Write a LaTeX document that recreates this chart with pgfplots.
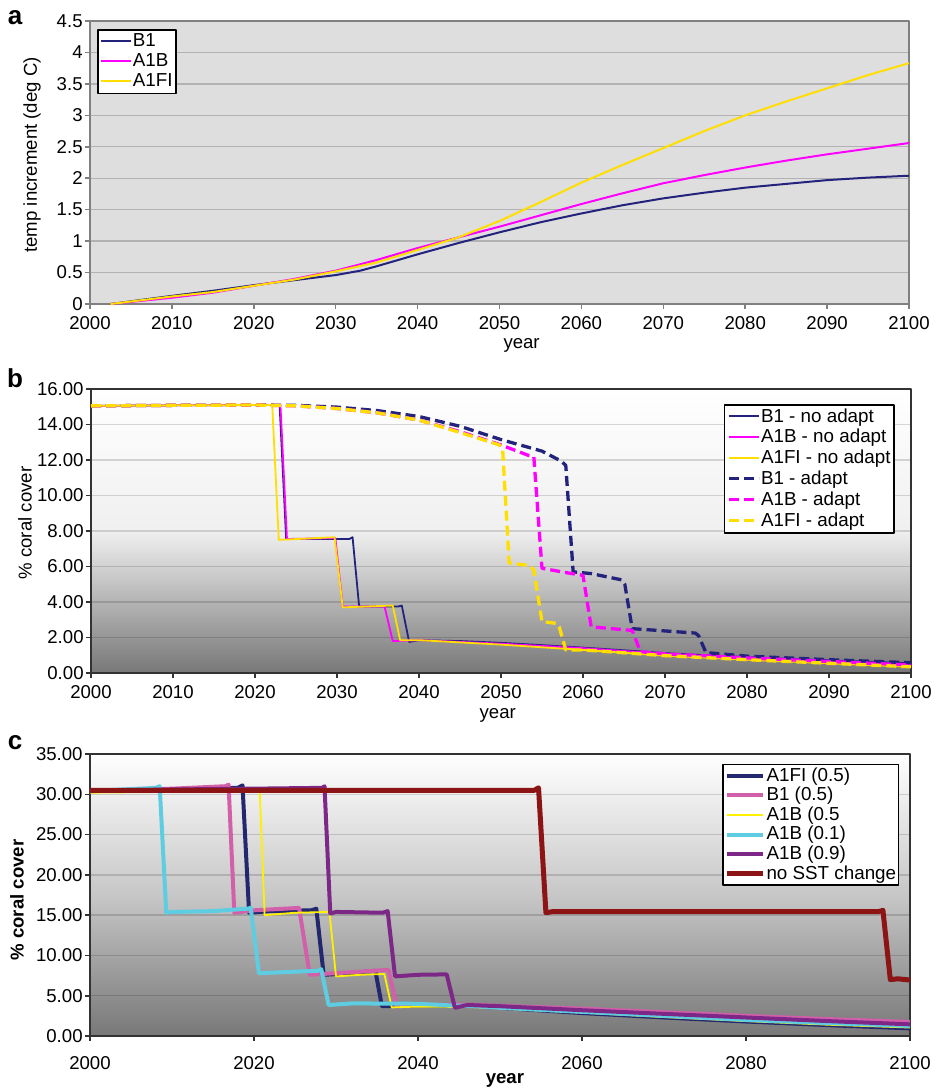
\documentclass[border=0pt]{standalone}
\usepackage{fontspec}
\setmainfont{Liberation Sans}
\usepackage{pgfplots}
\pgfplotsset{compat=1.18}

\definecolor{bnavy}{RGB}{35,35,125}
\definecolor{bmag}{RGB}{255,0,255}
\definecolor{byel}{RGB}{255,222,0}
\definecolor{cnavy}{RGB}{35,40,110}
\definecolor{cpink}{RGB}{210,95,170}
\definecolor{cyel}{RGB}{255,240,0}
\definecolor{ccyan}{RGB}{95,205,225}
\definecolor{cpurp}{RGB}{125,40,135}
\definecolor{cred}{RGB}{140,20,20}

\pgfplotsset{
  panel/.style={
    scale only axis,
    xmin=2000, xmax=2100,
    tick align=outside, tick pos=left,
    major tick length=2.5pt,
    tick style={line width=0.8pt},
    ticklabel style={font=\fontsize{9.3}{10}\selectfont, inner sep=1pt},
    /pgf/number format/assume math mode=true,
    xticklabel style={/pgf/number format/1000 sep={}, yshift=-2.75pt},
    label style={font=\fontsize{9.3}{10}\selectfont},
    legend cell align=left,
    legend style={font=\fontsize{9.4}{10}\selectfont, draw=black, line width=0.8pt,
      fill=white, inner sep=1.2pt, row sep=0.8pt,
      nodes={inner sep=0.4pt, text height=7pt, text depth=1.8pt}},
    legend image code/.code={\draw[##1] (0pt,0.3pt) -- (15pt,0.3pt);},
    ymajorgrids,
    line join=round,
  },
  longlegend/.style={
    legend image code/.code={\draw[##1] (0pt,0pt) -- (18pt,0pt);},
  },
}

\begin{document}
\begin{tikzpicture}
\useasboundingbox (0,0) rectangle (469pt,-544.5pt);

% ---- panel a
\node[font=\fontsize{13}{13}\bfseries] at (7.5pt,-9pt) {a};
\begin{axis}[panel,
  at={(45pt,-152pt)}, anchor=south west,
  width=409.5pt, height=141.5pt,
  ymin=0, ymax=4.5, ytick={0,0.5,...,4.5},
  xtick={2000,2010,...,2100},
  axis background/.style={fill=black!13},
  axis line style={black!50, line width=1pt},
  tick style={black!50},
  major grid style={black!30, line width=0.7pt},
  xlabel={year}, ylabel={temp increment (deg C)},
  xlabel style={at={(axis description cs:0.527,-0.147)}, anchor=center},
  ylabel style={at={(axis description cs:-0.0708,0.527)}, anchor=center},
  legend style={at={(0.0085,0.972)}, anchor=north west, row sep=0.3pt},
]
\addplot[bnavy, line width=1pt] coordinates {
 (2002.5,0) (2010,0.13) (2015,0.21) (2020,0.30) (2025,0.38) (2030,0.46)
 (2033,0.53) (2035,0.60) (2040,0.79) (2045,0.97) (2050,1.14) (2055,1.30)
 (2060,1.44) (2065,1.57) (2070,1.68) (2075,1.77) (2080,1.85) (2085,1.91)
 (2090,1.97) (2095,2.01) (2100,2.04)};
\addlegendentry{B1}
\addplot[bmag, line width=1pt] coordinates {
 (2002.5,0) (2010,0.10) (2015,0.18) (2020,0.29) (2025,0.40) (2030,0.53)
 (2035,0.70) (2040,0.89) (2045,1.06) (2050,1.23) (2055,1.41) (2060,1.59)
 (2065,1.76) (2070,1.92) (2075,2.05) (2080,2.17) (2085,2.28) (2090,2.38)
 (2095,2.47) (2100,2.56)};
\addlegendentry{A1B}
\addplot[byel, line width=1pt] coordinates {
 (2002.5,0) (2010,0.12) (2015,0.19) (2020,0.29) (2025,0.39) (2030,0.52)
 (2035,0.66) (2040,0.86) (2045,1.06) (2050,1.32) (2055,1.62) (2060,1.93)
 (2065,2.21) (2070,2.48) (2075,2.75) (2080,3.00) (2085,3.22) (2090,3.43)
 (2095,3.64) (2100,3.83)};
\addlegendentry{A1FI}
\end{axis}

% ---- panel b
\node[font=\fontsize{13}{13}\bfseries] at (7.5pt,-189pt) {b};
\begin{axis}[panel,
  at={(45.5pt,-336.5pt)}, anchor=south west,
  width=410pt, height=142pt,
  ymin=0, ymax=16, ytick={0,2,...,16},
  yticklabel style={/pgf/number format/.cd, fixed, zerofill, precision=2},
  xtick={2000,2010,...,2100},
  axis background/.style={top color=white, bottom color=black!53, middle color=black!6},
  axis line style={black!80, line width=1pt},
  tick style={black!80},
  major grid style={black, opacity=0.15, line width=0.7pt},
  xlabel={year}, ylabel={\% coral cover},
  xlabel style={at={(axis description cs:0.496,-0.148)}, anchor=center},
  ylabel style={at={(axis description cs:-0.0805,0.528)}, anchor=center},
  legend style={at={(0.980,0.947)}, anchor=north east},
]
\addplot[bnavy, line width=0.9pt] coordinates {
 (2000,15.05) (2010,15.08) (2020,15.1) (2023.0,15.1) (2023.8,7.55) (2031.5,7.55)
 (2031.9,7.65) (2032.7,3.75) (2037.5,3.75) (2037.9,3.8) (2038.8,1.75) (2040,1.85)
 (2045,1.8) (2050,1.7) (2055,1.57) (2060,1.43) (2065,1.28) (2070,1.12) (2075,1.0)
 (2080,0.9) (2085,0.8) (2090,0.72) (2095,0.63) (2100,0.55)};
\addlegendentry{B1 - no adapt}
\addplot[bmag, line width=0.9pt] coordinates {
 (2000,15.05) (2010,15.08) (2020,15.1) (2023.1,15.1) (2023.9,7.55) (2029.8,7.6)
 (2030.7,3.75) (2035.8,3.75) (2036.8,1.8) (2040,1.85) (2050,1.65) (2060,1.4)
 (2070,1.08) (2080,0.85) (2090,0.65) (2100,0.45)};
\addlegendentry{A1B - no adapt}
\addplot[byel, line width=0.9pt] coordinates {
 (2000,15.05) (2010,15.08) (2022.1,15.1) (2022.9,7.5) (2029.7,7.65) (2030.7,3.7)
 (2036.8,3.8) (2037.7,1.85) (2040,1.85) (2050,1.6) (2060,1.3) (2070,0.98)
 (2080,0.75) (2090,0.55) (2100,0.35)};
\addlegendentry{A1FI - no adapt}
\addplot[bnavy, line width=1.65pt, dash pattern=on 5pt off 2.5pt] coordinates {
 (2000,15.05) (2010,15.08) (2020,15.1) (2025,15.08) (2030,14.98) (2035,14.78)
 (2040,14.45) (2045,13.9) (2050,13.15) (2055,12.5) (2057.3,11.95) (2057.9,11.7)
 (2058.8,5.7) (2061,5.6) (2064.7,5.25) (2065.1,5.0) (2066,2.5) (2073.7,2.25)
 (2074.1,2.1) (2075,1.15) (2080,0.95) (2090,0.75) (2100,0.58)};
\addlegendentry{B1 - adapt}
\addplot[bmag, line width=1.65pt, dash pattern=on 5pt off 2.5pt] coordinates {
 (2000,15.05) (2010,15.08) (2020,15.1) (2025,15.05) (2030,14.9) (2035,14.65)
 (2040,14.25) (2045,13.6) (2050,12.85) (2053.4,12.25) (2054,12.2) (2055,5.9)
 (2058,5.65) (2060,5.5) (2061,2.6) (2066,2.4) (2067,1.2) (2070,1.08) (2080,0.85)
 (2090,0.65) (2100,0.45)};
\addlegendentry{A1B - adapt}
\addplot[byel, line width=1.65pt, dash pattern=on 5pt off 2.5pt] coordinates {
 (2000,15.05) (2010,15.08) (2020,15.1) (2025,15.05) (2030,14.9) (2035,14.65)
 (2040,14.25) (2045,13.55) (2049.8,12.85) (2050.2,12.6) (2051,6.2) (2053.5,6.05)
 (2054,5.8) (2055,2.9) (2056.7,2.8) (2057.1,2.6) (2057.9,1.3) (2060,1.3)
 (2070,0.98) (2080,0.75) (2090,0.55) (2100,0.35)};
\addlegendentry{A1FI - adapt}
\end{axis}

% ---- panel c
\node[font=\fontsize{13}{13}\bfseries] at (7.5pt,-371.5pt) {c};
\begin{axis}[panel, longlegend,
  at={(45pt,-518pt)}, anchor=south west,
  width=410pt, height=141pt,
  ymin=0, ymax=35, ytick={0,5,...,35},
  yticklabel style={/pgf/number format/.cd, fixed, zerofill, precision=2},
  xtick={2000,2020,...,2100},
  xticklabel style={yshift=-4pt},
  axis background/.style={top color=white, bottom color=black!53, middle color=black!22},
  axis line style={black!80, line width=1pt},
  tick style={black!80},
  major grid style={black, opacity=0.15, line width=0.7pt},
  xlabel={\bfseries year}, ylabel={\bfseries\% coral cover},
  xlabel style={at={(axis description cs:0.506,-0.156)}, anchor=center},
  ylabel style={at={(axis description cs:-0.089,0.482)}, anchor=center},
  legend style={at={(0.987,0.965)}, anchor=north east, row sep=0.2pt, inner sep=0.8pt},
]
\addplot[cnavy, line width=2pt] coordinates {
 (2000,30.4) (2010,30.6) (2018,30.8) (2018.6,31.1) (2019.4,15.3) (2022,15.5)
 (2027,15.6) (2027.6,15.8) (2028.5,7.6) (2032,7.8) (2034.8,8.1) (2035.6,3.7)
 (2040,3.8) (2046,3.75) (2050,3.5) (2060,2.85) (2070,2.3) (2080,1.8) (2090,1.35)
 (2100,0.95)};
\addlegendentry{A1FI (0.5)}
\addplot[cpink, line width=2pt] coordinates {
 (2000,30.4) (2010,30.7) (2016.5,31.0) (2016.9,31.2) (2017.6,15.3) (2020,15.6)
 (2025.5,15.9) (2026.8,7.6) (2030,7.8) (2036.4,8.2) (2037.4,3.7) (2040,3.85)
 (2046,3.9) (2050,3.75) (2060,3.4) (2070,2.95) (2080,2.5) (2090,2.1) (2100,1.75)};
\addlegendentry{B1 (0.5)}
\addplot[cyel, line width=0.9pt] coordinates {
 (2000,30.2) (2010,30.3) (2020.7,30.4) (2021.3,15.0) (2025,15.3) (2029.2,15.4)
 (2030.0,7.4) (2033,7.6) (2035.9,7.7) (2036.8,3.55) (2040,3.65) (2046,3.6)
 (2050,3.4) (2060,2.9) (2070,2.35) (2080,1.85) (2090,1.4) (2100,1.05)};
\addlegendentry{A1B (0.5}
\addplot[ccyan, line width=2pt] coordinates {
 (2000,30.4) (2008,30.8) (2008.5,31.0) (2009.3,15.3) (2010,15.4) (2015,15.5)
 (2019.2,15.8) (2019.6,15.9) (2020.6,7.8) (2023,7.9) (2027.8,8.1) (2028.2,8.3)
 (2029.1,3.85) (2032,4.05) (2040,4.0) (2044,3.8) (2046,3.75) (2050,3.5)
 (2060,3.0) (2070,2.5) (2080,2.0) (2090,1.6) (2100,1.25)};
\addlegendentry{A1B (0.1)}
\addplot[cpurp, line width=2pt] coordinates {
 (2000,30.45) (2010,30.6) (2020,30.7) (2028.3,30.8) (2028.6,31.0) (2029.3,15.2)
 (2030,15.4) (2035.7,15.3) (2036.3,15.5) (2037.2,7.4) (2040,7.6) (2043.5,7.65)
 (2044.5,3.5) (2046,3.85) (2050,3.7) (2060,3.2) (2070,2.75) (2080,2.3)
 (2090,1.85) (2100,1.45)};
\addlegendentry{A1B (0.9)}
\addplot[cred, line width=2.5pt] coordinates {
 (2000,30.5) (2054.2,30.5) (2054.7,30.8) (2055.6,15.3) (2056.5,15.45)
 (2096.2,15.45) (2096.7,15.6) (2097.6,7.0) (2098.5,7.1) (2100,6.95)};
\addlegendentry{no SST change}
\end{axis}
\end{tikzpicture}
\end{document}
